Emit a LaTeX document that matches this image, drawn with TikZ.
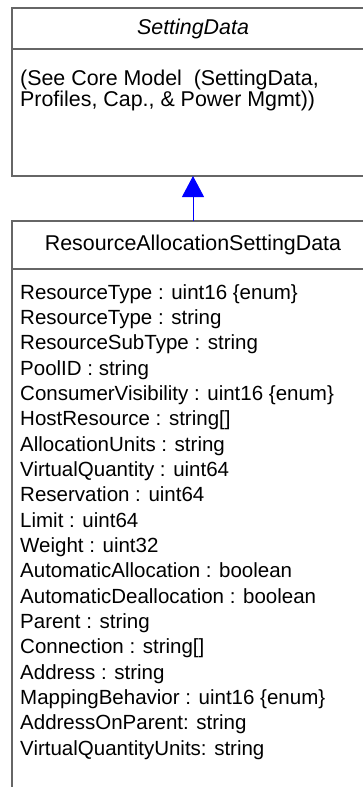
\documentclass[tikz,border=0pt]{standalone}
\usepackage{fontspec}
\setmainfont{Liberation Sans}
\usetikzlibrary{positioning, arrows.meta}

\begin{document}
\begin{tikzpicture}[
    x=1pt, y=-1pt,
    classPart/.style={draw=black!60, line width=1.3pt, minimum width=362pt, outer sep=0pt, inner sep=0pt, font=\fontsize{21.4}{24}\selectfont}, % one compartment of a class box
    memberText/.style={inner sep=0pt, align=left, anchor=north west}, % text inside a compartment
    inheritArrow/.style={blue, line width=1pt, -{Triangle[width=22pt, length=21pt]}}, % generalisation arrow
]
    \useasboundingbox (0,0) rectangle (363,787);
    \clip (0,0) rectangle (363,787);

    % 1. parent class
    \node[classPart, minimum height=41pt, anchor=north west] (sdHead) at (12,8) {\textit{SettingData}};
    \node[classPart, minimum height=127pt, below=0pt of sdHead] (sdBody) {};
    \node[memberText, font=\fontsize{21.4}{21}\selectfont] (sdNote) at (20,69.4)
        {(See Core Model~ (SettingData,\\Profiles, Cap., \& Power Mgmt))};

    % 2. derived class
    \node[classPart, minimum height=48pt, anchor=north west] (raHead) at (12,221) {ResourceAllocationSettingData};
    \node[classPart, minimum height=540pt, below=0pt of raHead] (raBody) {};
    \node[memberText, font=\fontsize{20.5}{25.33}\selectfont] (raProps) at (20,284) {%
        ResourceType : uint16 \{enum\}\\
        ResourceType : string\\
        ResourceSubType : string\\
        PoolID : string\\
        ConsumerVisibility : uint16 \{enum\}\\
        HostResource : string[]\\
        AllocationUnits : string\\
        VirtualQuantity : uint64\\
        Reservation : uint64\\
        Limit : uint64\\
        Weight : uint32\\
        AutomaticAllocation : boolean\\
        AutomaticDeallocation : boolean\\
        Parent : string\\
        Connection : string[]\\
        Address : string\\
        MappingBehavior : uint16 \{enum\}\\
        AddressOnParent: string\\
        VirtualQuantityUnits: string};

    % 3. inheritance
    \draw[inheritArrow] (raHead) -- (sdBody);
\end{tikzpicture}
\end{document}
